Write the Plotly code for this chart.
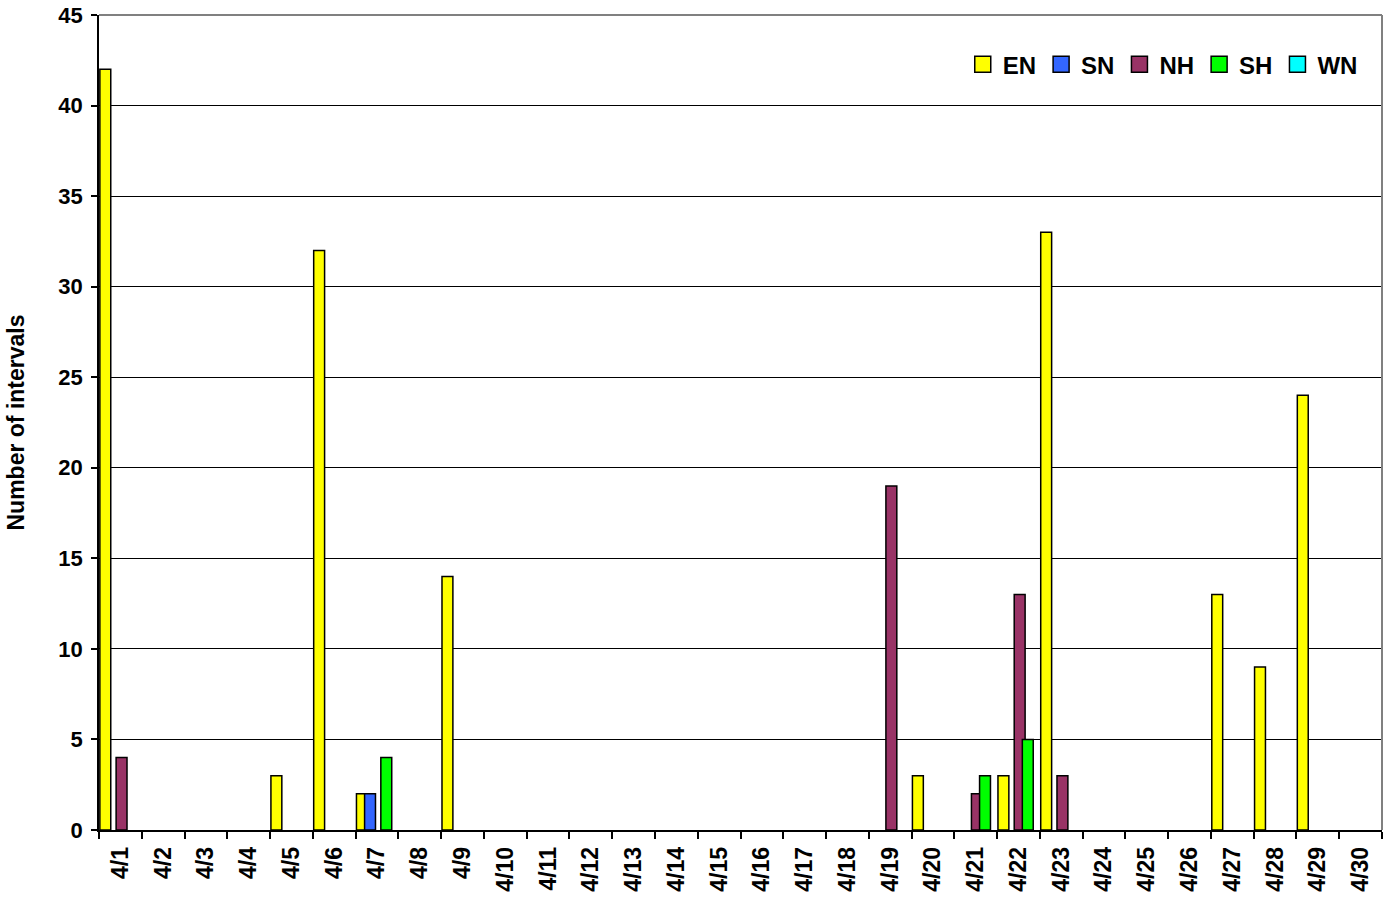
import plotly.graph_objects as go

dates = ["4/1", "4/2", "4/3", "4/4", "4/5", "4/6", "4/7", "4/8", "4/9", "4/10",
         "4/11", "4/12", "4/13", "4/14", "4/15", "4/16", "4/17", "4/18", "4/19", "4/20",
         "4/21", "4/22", "4/23", "4/24", "4/25", "4/26", "4/27", "4/28", "4/29", "4/30"]

EN = [42, 0, 0, 0, 3, 32, 2, 0, 14, 0, 0, 0, 0, 0, 0, 0, 0, 0, 0, 3, 0, 3, 33, 0, 0, 0, 13, 9, 24, 0]
SN = [0, 0, 0, 0, 0, 0, 2, 0, 0, 0, 0, 0, 0, 0, 0, 0, 0, 0, 0, 0, 0, 0, 0, 0, 0, 0, 0, 0, 0, 0]
NH = [4, 0, 0, 0, 0, 0, 0, 0, 0, 0, 0, 0, 0, 0, 0, 0, 0, 0, 19, 0, 2, 13, 3, 0, 0, 0, 0, 0, 0, 0]
SH = [0, 0, 0, 0, 0, 0, 4, 0, 0, 0, 0, 0, 0, 0, 0, 0, 0, 0, 0, 0, 3, 5, 0, 0, 0, 0, 0, 0, 0, 0]
WN = [0] * 30

series_names = ["EN", "SN", "NH", "SH", "WN"]
series_values = [EN, SN, NH, SH, WN]
series_colors = ["#FFFF00", "#3366FF", "#993366", "#00FF00", "#00FFFF"]

FONT = "Liberation Sans, Arial, sans-serif"

fig = go.Figure()
bar_w = 0.255
step = 0.19
for i, (name, vals, col) in enumerate(zip(series_names, series_values, series_colors)):
    # zero-height bars are not drawn (as in the original chart)
    shown = [v if v != 0 else None for v in vals]
    fig.add_trace(go.Bar(
        x=dates, y=shown, name=name, showlegend=False,
        marker=dict(color=col, line=dict(color="black", width=1.5)),
        width=bar_w, offset=-0.48 + i * step,
    ))
# legend entries with larger square swatches
for name, col in zip(series_names, series_colors):
    fig.add_trace(go.Scatter(
        x=[None], y=[None], mode="markers", name=name,
        marker=dict(symbol="square", size=16, color=col, line=dict(color="black", width=1.5)),
    ))

for (x0, y0, x1, y1) in [(0, 1, 1, 1), (1, 0, 1, 1)]:
    fig.add_shape(type="line", xref="paper", yref="paper", x0=x0, y0=y0, x1=x1, y1=y1,
                  line=dict(color="#808080", width=2), layer="above")

fig.update_layout(
    width=1391, height=901,
    margin=dict(l=99, r=9, t=15, b=71),
    paper_bgcolor="white", plot_bgcolor="white",
    barmode="overlay",
    font=dict(family=FONT, color="black"),
    showlegend=True,
    legend=dict(orientation="h", x=0.985, xanchor="right", y=0.939, yanchor="middle",
                font=dict(size=24, family=FONT, weight="bold"),
                bgcolor="rgba(0,0,0,0)", traceorder="normal", itemwidth=30),
    xaxis=dict(type="category", categoryorder="array", categoryarray=dates,
               tickson="boundaries", ticks="outside", ticklen=7, tickcolor="black",
               tickwidth=1.5, showline=True, linecolor="black", linewidth=1.5,
               showgrid=False, tickangle=-90, range=[-0.5, 29.5], automargin=False,
               ticklabelstandoff=6,
               tickfont=dict(size=23, family=FONT, weight="bold")),
    yaxis=dict(range=[0, 45], dtick=5, tick0=0, ticks="outside", ticklen=6,
               tickcolor="black", tickwidth=1.5, showline=True, linecolor="black",
               linewidth=1.5, showgrid=True, gridcolor="black", gridwidth=1,
               zeroline=False, automargin=False, ticklabelstandoff=4,
               tickfont=dict(size=22, family=FONT, weight="bold"),
               title=dict(text="Number of intervals", standoff=27,
                          font=dict(size=23, family=FONT, weight="bold"))),
)

fig.write_html("out.html", config={"displayModeBar": False},
               post_script="document.body.style.margin='0';")
